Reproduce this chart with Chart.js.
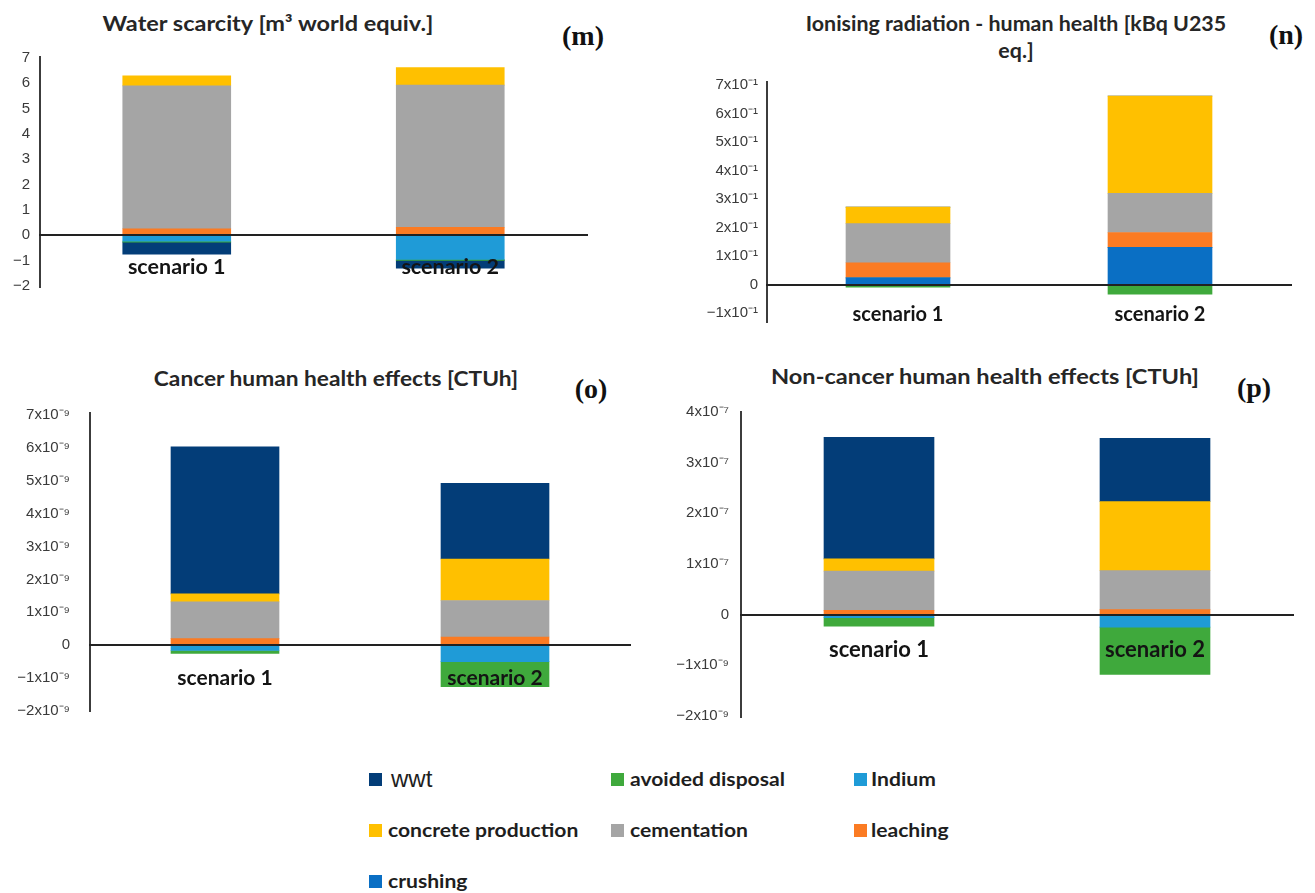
<!DOCTYPE html>
<html>
<head>
<meta charset="utf-8">
<script src="https://cdn.jsdelivr.net/npm/chart.js@4.4.1/dist/chart.umd.min.js"></script>
<style>
  html, body { margin: 0; padding: 0; background: #fff; }
  #page { position: relative; width: 1315px; height: 893px; overflow: hidden; background: #fff; }
  canvas { position: absolute; }
  .title { position: absolute; width: 600px; text-align: center; font-family: Lato, sans-serif; font-weight: 700; font-size: 20px; color: #262626; white-space: nowrap; transform-origin: 50% 50%; }
  .tag { position: absolute; width: 80px; text-align: center; font-family: "Liberation Serif", serif; font-weight: 700; font-size: 28px; line-height: 32px; color: #111; }
  .sw { position: absolute; width: 13px; height: 13px; }
  .lt { position: absolute; font-family: Lato, sans-serif; font-weight: 700; font-size: 19px; line-height: 24px; color: #1e1e1e; white-space: nowrap; transform: scaleX(1.11); transform-origin: 0 50%; }
</style>
</head>
<body>
<div id="page">
  <div class="title" style="left:-32px;top:11px;line-height:24px;transform:scaleX(1.175);">Water scarcity [m³ world equiv.]</div>
  <div class="tag" style="left:543px;top:20px;">(m)</div>
  <div class="title" style="left:716px;top:10px;line-height:27px;transform:scaleX(1.07);">Ionising radiation - human health [kBq U235<br>eq.]</div>
  <div class="tag" style="left:1246px;top:19px;">(n)</div>
  <div class="title" style="left:36px;top:366px;line-height:24px;transform:scaleX(1.135);">Cancer human health effects [CTUh]</div>
  <div class="tag" style="left:551px;top:373px;">(o)</div>
  <div class="title" style="left:685px;top:364px;line-height:24px;transform:scaleX(1.18);">Non-cancer human health effects [CTUh]</div>
  <div class="tag" style="left:1214px;top:372px;">(p)</div>

  <canvas id="cWater" width="657" height="340" style="left:0;top:0"></canvas>
  <canvas id="cIon" width="658" height="340" style="left:657px;top:0"></canvas>
  <canvas id="cCancer" width="657" height="400" style="left:0;top:340px"></canvas>
  <canvas id="cNonCancer" width="658" height="400" style="left:657px;top:340px"></canvas>

  <div id="legend"></div>
</div>
<script>
// ---- categories and series ----
const scenarios = ['scenario 1', 'scenario 2'];
const seriesNames = ['crushing', 'Indium', 'avoided disposal', 'leaching', 'cementation', 'concrete production', 'wwt'];
const legendOrder = ['wwt', 'avoided disposal', 'Indium', 'concrete production', 'cementation', 'leaching', 'crushing'];

// ---- Water scarcity [m³ world equiv.] ----
const waterCrushing     = [0, 0];
const waterIndium       = [-0.23, -0.95];
const waterAvoided      = [-0.04, -0.04];
const waterLeaching     = [0.26, 0.32];
const waterCementation  = [5.64, 5.61];
const waterConcrete     = [0.40, 0.69];
const waterWwt          = [-0.47, -0.31];
const waterTicks        = [-2, -1, 0, 1, 2, 3, 4, 5, 6, 7];
const waterTickLabels   = ['\u22122', '\u22121', '0', '1', '2', '3', '4', '5', '6', '7'];

// ---- Ionising radiation - human health [kBq U235 eq.] ----
const ionCrushing       = [0.024, 0.131];
const ionIndium         = [0, 0];
const ionAvoided        = [-0.009, -0.033];
const ionLeaching       = [0.053, 0.052];
const ionCementation    = [0.137, 0.137];
const ionConcrete       = [0.058, 0.341];
const ionWwt            = [0, 0];
const ionTicks          = [-0.1, 0, 0.1, 0.2, 0.3, 0.4, 0.5, 0.6, 0.7];
const ionTickLabels     = ['\u22121x10\u207b\u00b9', '0', '1x10\u207b\u00b9', '2x10\u207b\u00b9', '3x10\u207b\u00b9',
                           '4x10\u207b\u00b9', '5x10\u207b\u00b9', '6x10\u207b\u00b9', '7x10\u207b\u00b9'];

// ---- Cancer human health effects [CTUh] ----
const cancerCrushing    = [0, 0];
const cancerIndium      = [-0.16e-9, -0.50e-9];
const cancerAvoided     = [-0.09e-9, -0.76e-9];
const cancerLeaching    = [0.20e-9, 0.25e-9];
const cancerCementation = [1.12e-9, 1.11e-9];
const cancerConcrete    = [0.24e-9, 1.26e-9];
const cancerWwt         = [4.47e-9, 2.30e-9];
const cancerTicks       = [-2e-9, -1e-9, 0, 1e-9, 2e-9, 3e-9, 4e-9, 5e-9, 6e-9, 7e-9];
const cancerTickLabels  = ['\u22122x10\u207b\u2079', '\u22121x10\u207b\u2079', '0', '1x10\u207b\u2079', '2x10\u207b\u2079',
                           '3x10\u207b\u2079', '4x10\u207b\u2079', '5x10\u207b\u2079', '6x10\u207b\u2079', '7x10\u207b\u2079'];

// ---- Non-cancer human health effects [CTUh] ----
const nonCancerCrushing    = [0, 0];
const nonCancerIndium      = [-0.06e-9, -0.245e-9];
const nonCancerAvoided     = [-0.165e-9, -0.935e-9];
const nonCancerLeaching    = [0.085e-7, 0.10e-7];
const nonCancerCementation = [0.775e-7, 0.77e-7];
const nonCancerConcrete    = [0.24e-7, 1.36e-7];
const nonCancerWwt         = [2.40e-7, 1.25e-7];
const nonCancerTicks       = [-2e-9, -1e-9, 0, 1e-7, 2e-7, 3e-7, 4e-7];
const nonCancerTickLabels  = ['\u22122x10\u207b\u2079', '\u22121x10\u207b\u2079', '0', '1x10\u207b\u2077',
                              '2x10\u207b\u2077', '3x10\u207b\u2077', '4x10\u207b\u2077'];

// ---- styling ----
const seriesColors = {
  'crushing': '#0a6fc4',
  'Indium': '#1f9bd7',
  'avoided disposal': '#3fa93c',
  'leaching': '#fb7b23',
  'cementation': '#a5a5a5',
  'concrete production': '#ffc000',
  'wwt': '#033d78'
};

// Value axis whose negative and positive halves use different step sizes
// (one tick step below zero = negStep, above zero = posStep).
class SplitLinearScale extends Chart.LinearScale {
  _unit(v) {
    const o = this.options;
    return v < 0 ? v / (o.negStep || 1) : v / (o.posStep || 1);
  }
  getPixelForValue(value) {
    const lo = this._unit(this.min), hi = this._unit(this.max);
    return this.getPixelForDecimal((this._unit(value) - lo) / (hi - lo));
  }
  getValueForPixel(pixel) {
    const o = this.options;
    const lo = this._unit(this.min), hi = this._unit(this.max);
    const u = lo + this.getDecimalForPixel(pixel) * (hi - lo);
    return u < 0 ? u * (o.negStep || 1) : u * (o.posStep || 1);
  }
}
SplitLinearScale.id = 'splitLinear';
SplitLinearScale.defaults = Chart.LinearScale.defaults;
Chart.register(SplitLinearScale);

function buildTable(crushing, indium, avoided, leaching, cementation, concrete, wwt) {
  return {
    'crushing': crushing, 'Indium': indium, 'avoided disposal': avoided, 'leaching': leaching,
    'cementation': cementation, 'concrete production': concrete, 'wwt': wwt
  };
}

function drawPanel(canvasId, table, axis, look) {
  const datasets = seriesNames.map(name => ({
    label: name,
    data: table[name],
    backgroundColor: seriesColors[name],
    borderWidth: 0,
    barThickness: look.barThickness
  }));
  const yScale = {
    type: axis.type || 'linear',
    stacked: true,
    min: axis.min,
    max: axis.max,
    bounds: 'data',
    afterFit: s => { s.width = look.axisWidth; },
    afterBuildTicks: s => { s.ticks = axis.ticks.map(v => ({ value: v })); },
    grid: { display: false, drawTicks: false },
    border: { display: true, color: '#3c3c3c', width: 2 },
    ticks: {
      autoSkip: false,
      padding: look.tickPad,
      color: '#3a3a3a',
      font: { family: 'Liberation Sans', size: 15 },
      callback: (v, i) => axis.labels[i]
    }
  };
  if (axis.negStep) { yScale.negStep = axis.negStep; yScale.posStep = axis.posStep; }

  return new Chart(document.getElementById(canvasId), {
    type: 'bar',
    data: { labels: scenarios, datasets },
    options: {
      responsive: false,
      animation: false,
      devicePixelRatio: 1,
      layout: { padding: look.padding },
      plugins: { legend: { display: false }, tooltip: { enabled: false }, title: { display: false } },
      scales: {
        x: {
          stacked: true,
          position: { y: 0 },
          afterFit: s => { s.height = 0; },
          grid: { display: false, drawTicks: false },
          border: { display: true, color: '#222', width: 2, z: 1 },
          ticks: {
            z: 1,
            padding: look.labelPad,
            maxRotation: 0,
            autoSkip: false,
            color: '#141414',
            font: { family: 'Lato', weight: 'bold', size: look.labelSize }
          }
        },
        y: yScale
      }
    }
  });
}

drawPanel('cWater',
  buildTable(waterCrushing, waterIndium, waterAvoided, waterLeaching, waterCementation, waterConcrete, waterWwt),
  { min: -2.04, max: 7.04, ticks: waterTicks, labels: waterTickLabels },
  { padding: { left: 0, top: 57, right: 70, bottom: 53 }, axisWidth: 40, tickPad: 10, barThickness: 108, labelPad: 19, labelSize: 21.5 });

drawPanel('cIon',
  buildTable(ionCrushing, ionIndium, ionAvoided, ionLeaching, ionCementation, ionConcrete, ionWwt),
  { min: -0.1306, max: 0.71, ticks: ionTicks, labels: ionTickLabels },
  { padding: { left: 0, top: 82, right: 24, bottom: 7 }, axisWidth: 110, tickPad: 9, barThickness: 104, labelPad: 18, labelSize: 20 });

drawPanel('cCancer',
  buildTable(cancerCrushing, cancerIndium, cancerAvoided, cancerLeaching, cancerCementation, cancerConcrete, cancerWwt),
  { min: -2.0e-9, max: 7.06e-9, ticks: cancerTicks, labels: cancerTickLabels },
  { padding: { left: 0, top: 73, right: 27, bottom: 27 }, axisWidth: 90, tickPad: 20, barThickness: 108, labelPad: 20, labelSize: 21 });

drawPanel('cNonCancer',
  buildTable(nonCancerCrushing, nonCancerIndium, nonCancerAvoided, nonCancerLeaching, nonCancerCementation, nonCancerConcrete, nonCancerWwt),
  { type: 'splitLinear', min: -2.02e-9, max: 4e-7, negStep: 1e-9, posStep: 1e-7, ticks: nonCancerTicks, labels: nonCancerTickLabels },
  { padding: { left: 0, top: 72, right: 22, bottom: 23 }, axisWidth: 84, tickPad: 12, barThickness: 110, labelPad: 22, labelSize: 22 });

// ---- shared legend (three columns, row by row) ----
const legend = document.getElementById('legend');
const colX = [[369, 388], [611, 630], [854, 871]];
const rowY = [779, 830, 881];
legendOrder.forEach((name, i) => {
  const c = i % 3, r = Math.floor(i / 3);
  const sw = document.createElement('div');
  sw.className = 'sw';
  sw.style.left = colX[c][0] + 'px';
  sw.style.top = (rowY[r] - 6.5) + 'px';
  sw.style.background = seriesColors[name];
  legend.appendChild(sw);
  const t = document.createElement('div');
  t.className = 'lt';
  t.textContent = name;
  t.style.left = colX[c][1] + 'px';
  t.style.top = (rowY[r] - 12) + 'px';
  if (name === 'wwt') {
    t.style.fontFamily = '"Liberation Sans", sans-serif';
    t.style.fontWeight = '400';
    t.style.fontSize = '24px';
    t.style.transform = 'none';
    t.style.left = (colX[c][1] + 3) + 'px';
  }
  legend.appendChild(t);
});
</script>
</body>
</html>
